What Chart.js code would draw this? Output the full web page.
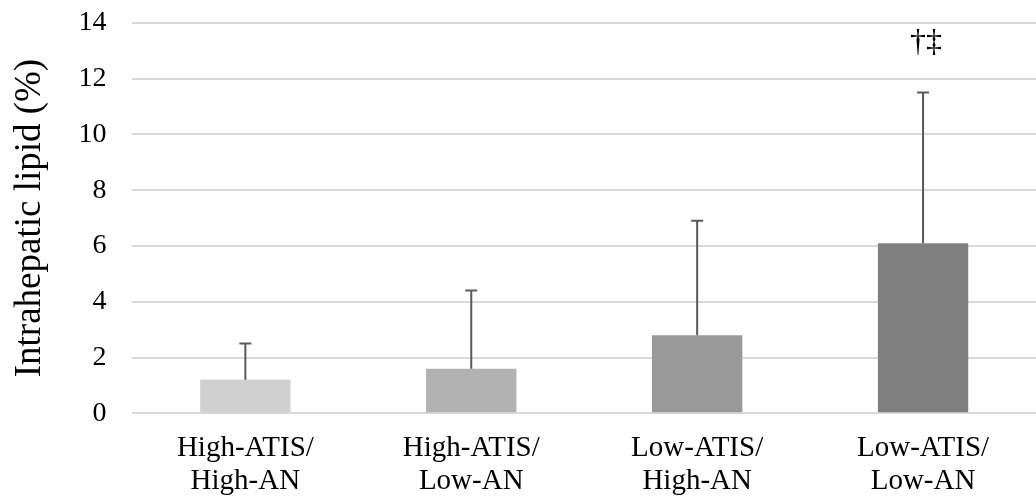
<!DOCTYPE html>
<html>
<head>
<meta charset="utf-8">
<script src="https://cdn.jsdelivr.net/npm/chart.js@4/dist/chart.umd.min.js"></script>
<style>
  html, body { margin: 0; padding: 0; background: #fff; overflow: hidden; }
  #wrap { width: 1036px; height: 520px; margin-top: -20px; }
</style>
</head>
<body>
<div id="wrap"><canvas id="lipidChart"></canvas></div>
<script>
// ---- data ----
const groups = [['High-ATIS/', 'High-AN'], ['High-ATIS/', 'Low-AN'], ['Low-ATIS/', 'High-AN'], ['Low-ATIS/', 'Low-AN']];
const means = [1.2, 1.6, 2.8, 6.1];
const sds = [1.3, 2.8, 4.1, 5.4];
const marks = ['', '', '', '†‡'];
const markLevel = 13.0;
const barColors = ['#d0d0d0', '#b2b2b2', '#999999', '#808080'];
const yTicks = [0, 2, 4, 6, 8, 10, 12, 14];

const FONT = "'Liberation Serif', 'Times New Roman', serif";

// upper error bars + significance marks
const errorBars = {
  id: 'errorBars',
  afterDatasetsDraw(chart) {
    const { ctx, scales: { x, y } } = chart;
    ctx.save();
    ctx.strokeStyle = '#5a5a5a';
    ctx.lineWidth = 2;
    means.forEach((m, i) => {
      const cx = x.getPixelForValue(i);
      const y0 = y.getPixelForValue(m);
      const y1 = y.getPixelForValue(m + sds[i]);
      ctx.beginPath();
      ctx.moveTo(cx, y0);
      ctx.lineTo(cx, y1);
      ctx.moveTo(cx - 6, y1);
      ctx.lineTo(cx + 6, y1);
      ctx.stroke();
      if (marks[i]) {
        ctx.fillStyle = '#000';
        ctx.font = '32px ' + FONT;
        ctx.textAlign = 'center';
        ctx.textBaseline = 'alphabetic';
        ctx.fillText(marks[i], cx + 3, y.getPixelForValue(markLevel));
      }
    });
    ctx.restore();
  }
};

new Chart(document.getElementById('lipidChart'), {
  type: 'bar',
  data: {
    labels: groups,
    datasets: [{
      data: means,
      backgroundColor: barColors,
      barPercentage: 0.4,
      categoryPercentage: 1.0
    }]
  },
  options: {
    responsive: true,
    maintainAspectRatio: false,
    animation: false,
    layout: { padding: { top: 0, right: 0, bottom: -8, left: 8 } },
    plugins: {
      legend: { display: false },
      tooltip: { enabled: false }
    },
    scales: {
      x: {
        grid: { display: false },
        border: { display: false },
        ticks: {
          color: '#000',
          font: { family: FONT, size: 29, lineHeight: 1.15 },
          padding: 10,
          maxRotation: 0
        }
      },
      y: {
        min: 0,
        max: 14,
        afterBuildTicks: axis => { axis.ticks = yTicks.map(v => ({ value: v })); },
        grid: { color: '#d9d9d9', lineWidth: 2, drawTicks: false },
        border: { display: false },
        ticks: {
          color: '#000',
          font: { family: FONT, size: 28 },
          padding: 26
        },
        title: {
          display: true,
          text: 'Intrahepatic lipid (%)',
          color: '#000',
          font: { family: FONT, size: 37 },
          padding: { top: 0, bottom: 0 }
        }
      }
    }
  },
  plugins: [errorBars]
});
</script>
</body>
</html>
